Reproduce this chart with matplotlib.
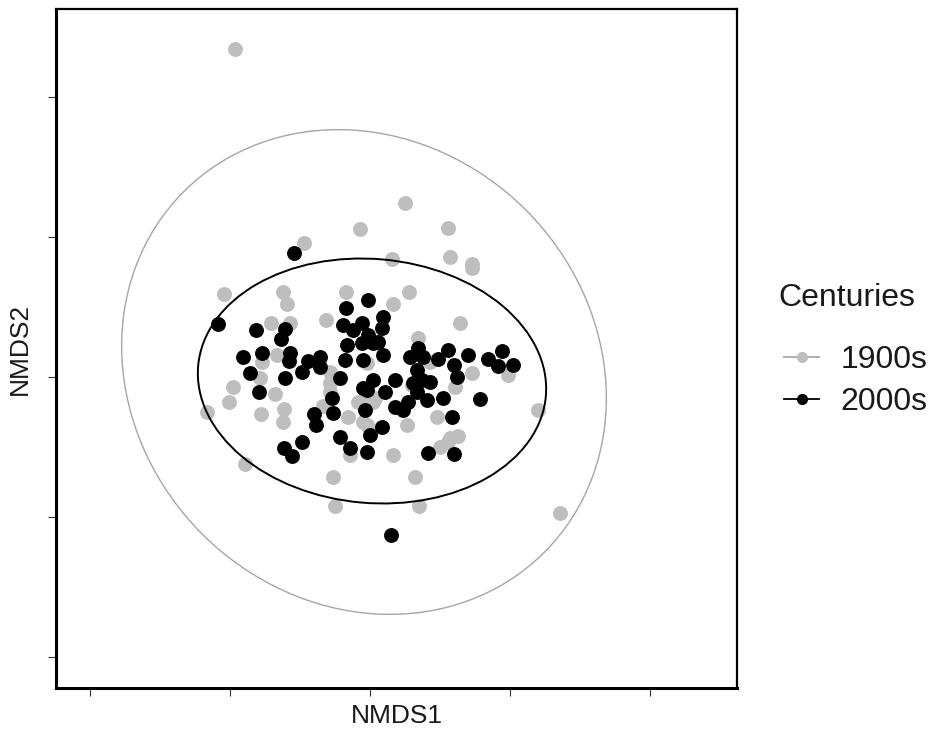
import matplotlib
matplotlib.use("Agg")
import matplotlib.pyplot as plt
from matplotlib.patches import Ellipse
from matplotlib.lines import Line2D

plt.rcParams['font.family'] = ['Liberation Sans', 'DejaVu Sans']

# ---- data (NMDS scores) ----
x_1900s = [-1.35, 0.35, 0.78, -0.10, -0.66, 0.80, 1.02, 1.02, 0.22, 0.39, 0.23, 0.90, 0.48,
           -1.46, -0.87, -0.83, -0.24, -0.44, -0.99, -0.80, -0.93, -1.08, -1.10, -1.37, -0.40,
           -0.03, 0.60, 1.02, 1.38, 0.85, -1.41, -1.63, -0.95, -1.09, -0.86, -0.87, -1.25,
           -0.40, -0.40, -0.22, -0.12, 0.03, -0.47, 0.67, 0.37, -0.07, 0.02, -0.20, 0.23,
           0.70, 0.80, 0.88, -0.37, 0.45, 1.68, -0.35, 0.49, 1.90, 0.42, 0.05, -0.03, -0.03, 0.78]
y_1900s = [3.28, 1.74, 1.49, 1.48, 1.34, 1.20, 1.13, 1.09, 1.18, 0.85, 0.73, 0.54, 0.39,
           0.83, 0.85, 0.73, 0.85, 0.57, 0.54, 0.54, 0.22, 0.15, -0.01, -0.10, 0.05,
           0.14, 0.15, 0.04, 0.02, -0.10, -0.25, -0.35, -0.17, -0.37, -0.32, -0.45, -0.87,
           -0.15, -0.06, -0.40, -0.25, -0.25, -0.29, -0.40, -0.48, -0.45, -0.53, -0.78, -0.78,
           -0.70, -0.61, -0.59, -1.00, -1.00, -0.33, -1.29, -1.29, -1.36, -0.08, -0.21, -0.16, -0.48, -0.65]

x_2000s = [-0.76, -1.52, -1.14, -0.85, -0.89, -0.24, -0.02, -1.27, -1.08, -0.80, -0.81, -0.62,
           -0.50, -1.20, -0.85, -0.68, -0.27, -0.08, 0.13, 0.12, -0.17, -0.02, -0.23, 0.08,
           -0.08, 0.13, -0.07, -0.25, -0.30, 0.48, 0.40, 0.53, 0.68, 0.78, 0.47, 0.52, 0.03,
           0.25, -0.07, 0.98, 0.84, 0.87, 1.18, 1.32, 1.28, 1.43, -1.11, -0.56, -0.54, -0.68,
           -0.86, -0.78, -0.37, -0.03, 0.25, 0.38, 0.57, 0.73, 0.12, 0.00, -0.30, -0.20, -0.03,
           0.58, 1.10, 0.82, 0.84, 0.43, 0.60, 0.33, -0.05, -0.38, 0.21, 0.03, -0.50, 0.15, 0.47]
y_2000s = [1.24, 0.53, 0.47, 0.48, 0.38, 0.69, 0.77, 0.20, 0.24, 0.24, 0.16, 0.16,
           0.20, 0.04, -0.01, 0.05, 0.52, 0.54, 0.60, 0.49, 0.47, 0.42, 0.32, 0.35,
           0.34, 0.22, 0.17, 0.17, -0.01, 0.29, 0.20, 0.20, 0.18, 0.27, 0.07, -0.03, -0.03,
           -0.03, -0.11, 0.22, 0.12, 0.00, 0.18, 0.26, 0.11, 0.12, -0.15, -0.37, -0.48, -0.65,
           -0.71, -0.79, -0.36, -0.13, -0.30, -0.25, -0.23, -0.21, -0.50, -0.58, -0.60, -0.71, -0.75,
           -0.76, -0.22, -0.40, -0.77, -0.06, -0.05, -0.33, -0.33, -0.21, -1.58, 0.34, 0.10, -0.15, -0.15]

# ellipses: centre x, centre y, width, height, angle
ell_1900s = (-0.06, 0.05, 5.10, 4.58, -45)
ell_2000s = (0.02, -0.04, 3.49, 2.44, -5)

x_ticks = [-2.8, -1.4, 0.0, 1.4, 2.8]
y_ticks = [-2.8, -1.4, 0.0, 1.4, 2.8]
x_lim = (-3.14, 3.67)
y_lim = (-3.11, 3.68)

groups = ["1900s", "2000s"]
legend_title = "Centuries"
colors = ["#bebebe", "#000000"]
ell_colors = ["#a6a6a6", "#000000"]
text_color = "#1a1a1a"

W, H = 933, 731
fig = plt.figure(figsize=(W / 100, H / 100), dpi=100)
L, R, T, B = 56, 737, 9, 688
ax = fig.add_axes([L / W, 1 - B / H, (R - L) / W, (B - T) / H])

ax.scatter(x_1900s, y_1900s, s=115, c=colors[0], linewidths=0, zorder=2)
ax.scatter(x_2000s, y_2000s, s=115, c=colors[1], linewidths=0, zorder=3)

for e, col, lw in [(ell_1900s, ell_colors[0], 1.0), (ell_2000s, ell_colors[1], 1.4)]:
    ax.add_patch(Ellipse((e[0], e[1]), e[2], e[3], angle=e[4], fill=False,
                         edgecolor=col, linewidth=lw, zorder=4))

ax.set_xlim(*x_lim)
ax.set_ylim(*y_lim)
ax.set_xticks(x_ticks)
ax.set_yticks(y_ticks)
ax.set_xticklabels([])
ax.set_yticklabels([])
ax.tick_params(direction='out', length=6, width=0.8, color='#333333')
for s in ax.spines.values():
    s.set_linewidth(1.6)
ax.spines['left'].set_linewidth(2.2)
ax.spines['bottom'].set_linewidth(2.2)

ax.set_xlabel("NMDS1", fontsize=19, color=text_color, labelpad=2)
ax.set_ylabel("NMDS2", fontsize=19, color=text_color, labelpad=8)

handles = [Line2D([0], [0], color=ell_colors[i], marker='o', markersize=8,
                  markerfacecolor=colors[i], markeredgewidth=0, linewidth=1.3)
           for i in range(2)]
fs_leg = 23
leg = fig.legend(handles, groups, loc='upper left',
                 bbox_to_anchor=(784 / W, 1 - 345 / H), frameon=False,
                 fontsize=fs_leg, handlelength=1.1, borderpad=0, borderaxespad=0,
                 handletextpad=0.66, labelspacing=0.38)
for t in leg.get_texts():
    t.set_color(text_color)
fig.text(778 / W, 1 - 298 / H, legend_title, fontsize=fs_leg, color=text_color,
         ha='left', va='center')

fig.savefig("out.png", dpi=100)
